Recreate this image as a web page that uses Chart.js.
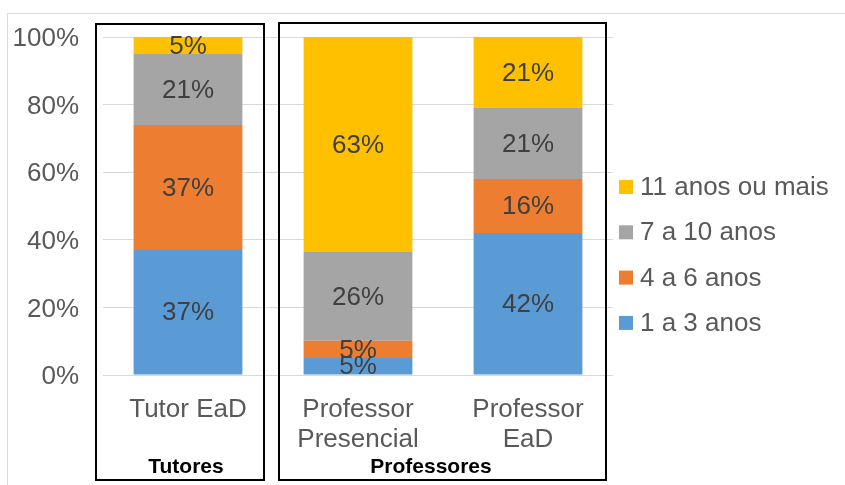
<!DOCTYPE html>
<html>
<head>
<meta charset="utf-8">
<script src="https://cdn.jsdelivr.net/npm/chart.js@4"></script>
<style>
  body { margin: 0; background: #fff; overflow: hidden; }
  #moldura { position: absolute; left: 7px; top: 13px; width: 900px; height: 500px; border: 1px solid #d9d9d9; }
  #grafico { position: absolute; left: 0; top: 0; width: 845px; height: 485px; }
</style>
</head>
<body>
<div id="moldura"></div>
<div id="grafico"><canvas id="chart" width="845" height="485"></canvas></div>
<script>
const categorias = ['Tutor EaD', ['Professor', 'Presencial'], ['Professor', 'EaD']];
const anos1a3 = [37, 5, 42];
const anos4a6 = [37, 5, 16];
const anos7a10 = [21, 26, 21];
const anos11mais = [5, 63, 21];
const ticksY = [0, 20, 40, 60, 80, 100];

const series = [anos1a3, anos4a6, anos7a10, anos11mais];
// cada barra soma 100%
const totais = categorias.map((c, i) => series.reduce((s, serie) => s + serie[i], 0));
const parte = serie => serie.map((v, i) => v / totais[i] * 100);

const fonte = 'Arial, "Liberation Sans", sans-serif';

// rótulos de dados no centro de cada segmento
const rotulos = {
  id: 'rotulos',
  afterDatasetsDraw(chart) {
    const ctx = chart.ctx;
    ctx.save();
    ctx.font = '26px ' + fonte;
    ctx.fillStyle = '#404040';
    ctx.textAlign = 'center';
    ctx.textBaseline = 'middle';
    chart.data.datasets.forEach((ds, d) => {
      chart.getDatasetMeta(d).data.forEach((bar, i) => {
        const meio = (bar.y + bar.base) / 2;
        ctx.fillText(ds.valores[i] + '%', bar.x, meio + 1);
      });
    });
    ctx.restore();
  }
};

// caixas dos grupos Tutores / Professores e legenda à direita
const grupos = {
  id: 'grupos',
  afterDraw(chart) {
    const ctx = chart.ctx;
    const a = chart.chartArea;
    const x = chart.scales.x;
    const divisa = (x.getPixelForValue(0) + x.getPixelForValue(1)) / 2;
    ctx.save();
    ctx.strokeStyle = '#000';
    ctx.lineWidth = 2;
    ctx.strokeRect(a.left - 7, a.top - 13, divisa - 9 - (a.left - 7), 456);
    ctx.strokeRect(divisa + 6, a.top - 14, a.right - 7 - (divisa + 6), 457);

    ctx.fillStyle = '#000';
    ctx.font = 'bold 21px ' + fonte;
    ctx.textAlign = 'center';
    ctx.textBaseline = 'middle';
    ctx.fillText('Tutores', x.getPixelForValue(0) - 2, 467);
    ctx.fillText('Professores', divisa + 158, 467);

    // legenda, da série de cima para a de baixo
    ctx.font = '26px ' + fonte;
    ctx.textAlign = 'left';
    const dss = chart.data.datasets.slice().reverse();
    dss.forEach((ds, k) => {
      const y = 187 + k * 45.3;
      ctx.fillStyle = ds.backgroundColor;
      ctx.fillRect(619, y - 7, 14, 14);
      ctx.fillStyle = '#595959';
      ctx.fillText(ds.label, 640, y + 1);
    });
    ctx.restore();
  }
};

new Chart(document.getElementById('chart'), {
  type: 'bar',
  data: {
    labels: categorias,
    datasets: [{
      label: '1 a 3 anos',
      data: parte(anos1a3),
      valores: anos1a3,
      backgroundColor: '#5b9bd5'
    }, {
      label: '4 a 6 anos',
      data: parte(anos4a6),
      valores: anos4a6,
      backgroundColor: '#ed7d31'
    }, {
      label: '7 a 10 anos',
      data: parte(anos7a10),
      valores: anos7a10,
      backgroundColor: '#a5a5a5'
    }, {
      label: '11 anos ou mais',
      data: parte(anos11mais),
      valores: anos11mais,
      backgroundColor: '#ffc000'
    }]
  },
  options: {
    responsive: false,
    animation: false,
    events: [],
    layout: {
      padding: { left: 0, right: 232, top: 37, bottom: 0 }
    },
    datasets: {
      bar: { barPercentage: 0.64, categoryPercentage: 1, borderWidth: 0 }
    },
    plugins: {
      legend: { display: false },
      tooltip: { enabled: false }
    },
    scales: {
      x: {
        stacked: true,
        grid: { display: false },
        border: { display: false },
        ticks: {
          color: '#595959',
          font: { family: fonte, size: 26, lineHeight: 1.15 },
          padding: 12,
          maxRotation: 0
        },
        afterFit(scale) { scale.height = 110; }
      },
      y: {
        stacked: true,
        min: 0,
        max: 100,
        afterBuildTicks(scale) { scale.ticks = ticksY.map(v => ({ value: v })); },
        grid: { color: '#d9d9d9', drawTicks: false },
        border: { display: false },
        ticks: {
          color: '#595959',
          font: { family: fonte, size: 26 },
          padding: 24,
          labelOffset: 2,
          callback: v => v + '%'
        },
        afterFit(scale) {
          scale.width = 103;
          scale.paddingTop = 0;
          scale.paddingBottom = 0;
        }
      }
    }
  },
  plugins: [rotulos, grupos]
});
</script>
</body>
</html>
